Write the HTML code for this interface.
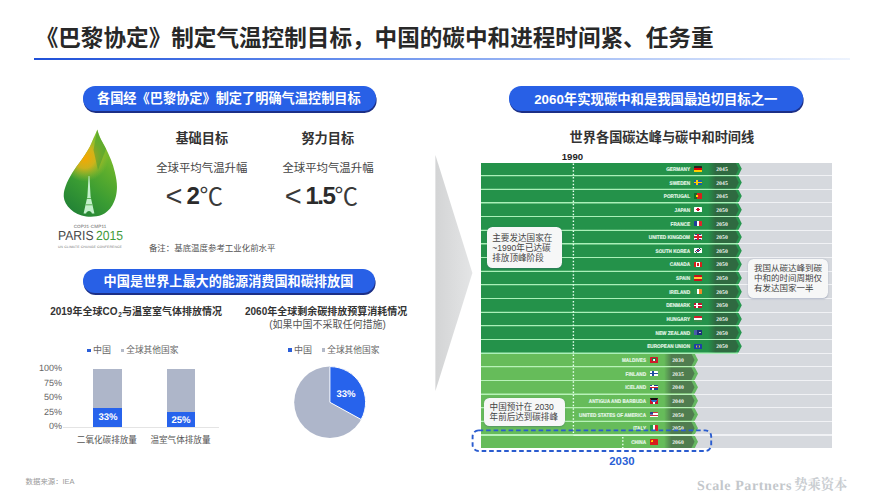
<!DOCTYPE html>
<html lang="zh-CN"><head><meta charset="utf-8"><title>巴黎协定与中国碳中和</title><style>
html,body{margin:0;padding:0;background:#fff}
body{width:877px;height:500px;overflow:hidden;font-family:"Liberation Sans","Noto Sans CJK SC",sans-serif}
#slide{position:relative;width:877px;height:500px;overflow:hidden;background:#fff}
.b{position:absolute;box-sizing:border-box}
.t{position:absolute}
.t span{position:absolute;left:0;top:0;white-space:nowrap;font-family:"Liberation Sans","Noto Sans CJK SC",sans-serif}
.l{position:absolute;white-space:nowrap;text-rendering:geometricPrecision;font-kerning:none}
.a{position:absolute;left:0;top:0;overflow:visible}
</style></head><body><div id="slide">
<div class="t " style="left:35.7px;top:27.6px;width:680px;height:30px"><span style="font-size:22.6px;font-weight:bold;line-height:22.6px;color:#282828">《巴黎协定》制定气温控制目标，中国的碳中和进程时间紧、任务重</span></div>
<div class="b " style="left:34px;top:58.3px;width:816px;height:2px;background:linear-gradient(90deg,#1f50d8 0%,#5f89ec 35%,#b9cdf8 75%,rgba(220,232,252,.5) 100%)"></div>
<div class="b " style="left:82.8px;top:86.3px;width:293px;height:24.3px;background:#2860e6;border-radius:12.15px;box-shadow:0.6px 1.9px 0 #1c2f86"></div>
<div class="t " style="left:97px;top:92.3px;width:265px;height:18px"><span style="font-size:13.2px;font-weight:bold;line-height:13.2px;color:#fff">各国经《巴黎协定》制定了明确气温控制目标</span></div>
<div class="b " style="left:82.8px;top:268.9px;width:292px;height:24.3px;background:#2860e6;border-radius:12.15px;box-shadow:0.6px 1.9px 0 #1c2f86"></div>
<div class="t " style="left:103.6px;top:274.93px;width:251px;height:18px"><span style="font-size:13.15px;font-weight:bold;line-height:13.15px;color:#fff">中国是世界上最大的能源消费国和碳排放国</span></div>
<div class="b " style="left:508.6px;top:86.3px;width:294.7px;height:24.3px;background:#2860e6;border-radius:12.15px;box-shadow:0.6px 1.9px 0 #1c2f86"></div>
<div class="t " style="left:534.2px;top:92.62px;width:247px;height:18px"><span style="font-size:13.35px;font-weight:bold;line-height:13.35px;color:#fff">2060年实现碳中和是我国最迫切目标之一</span></div>
<svg class="a" width="877" height="500" viewBox="0 0 877 500">
<defs>
<linearGradient id="lf1" x1="66" y1="212" x2="116" y2="150" gradientUnits="userSpaceOnUse"><stop offset="0" stop-color="#1f7f36"/><stop offset=".4" stop-color="#3a9c33"/><stop offset=".75" stop-color="#62b02c"/><stop offset="1" stop-color="#86c02c"/></linearGradient>
<radialGradient id="lf2" cx="84.5" cy="157.5" r="24" gradientUnits="userSpaceOnUse"><stop offset="0" stop-color="#f7a600"/><stop offset=".45" stop-color="#eab416" stop-opacity=".8"/><stop offset="1" stop-color="#a8c832" stop-opacity="0"/></radialGradient>
<linearGradient id="ar" x1="0" y1="0" x2="1" y2="0"><stop offset="0" stop-color="#d3d4d5"/><stop offset="1" stop-color="#e4e5e6"/></linearGradient>
<clipPath id="leafc"><path d="M97.3 129.6C99.5 138 103 143 105.7 148C109.5 156 113 163.5 114.8 172C116.5 179 117.2 184 116.9 189C116.5 197 114.5 201 112.5 205C109.5 210 106 213 102 214.8C97 216.8 91.5 217 86.2 216.5C80 215.8 74.5 213 70.8 209.5C66.5 205.5 64 201 63.8 197C63.5 193 64.3 190 65.5 186.5C67.3 181.5 69.5 177.5 72.2 173.1C75.3 168 78.5 164 82 159.2C86 153.5 89.5 148 91.7 142.4C94 137 96 133 97.3 129.6Z"/></clipPath>
</defs>
<g clip-path="url(#leafc)">
<rect x="60" y="125" width="62" height="95" fill="url(#lf1)"/>
<rect x="60" y="125" width="62" height="95" fill="url(#lf2)"/>
<path d="M97.3 129L106 149L98 170L93.5 150Z" fill="#379630" opacity=".45"/>
</g>
<path d="M88.6 176L89.4 176L90.6 196.5L94.4 213.6L91.9 213.6C91.4 210 86.6 210 86.1 213.6L83.6 213.6L87.4 196.5Z" fill="#c4f0cc"/>
<path d="M86.9 198.5H91.1M85.8 204.8H92.2" stroke="#3f9f38" stroke-width=".8" fill="none"/>
<path d="M435.4 155L472.4 273L435.4 391Z" fill="url(#ar)"/>
</svg>
<div class="l" style="left:90px;top:226.6px;font:normal 18.4px/1 'Liberation Sans',sans-serif;color:#666;letter-spacing:0.4px;transform:translate(-50%,-50%) scale(0.25,0.25);transform-origin:50% 50%;">COP21·CMP11</div>
<div class="l" style="left:57.6px;top:236.2px;font:normal 52.8px/1 'Liberation Sans',sans-serif;color:#4a4a4a;letter-spacing:0px;transform:translate(0,-50%) scale(0.23,0.25);transform-origin:0 50%;">PARIS</div>
<div class="l" style="left:122.6px;top:236.2px;font:normal 52.8px/1 'Liberation Sans',sans-serif;color:#3f9a3a;letter-spacing:0px;transform:translate(-100%,-50%) scale(0.23,0.25);transform-origin:100% 50%;">2015</div>
<div class="l" style="left:90px;top:246.6px;font:normal 13.6px/1 'Liberation Sans',sans-serif;color:#777;letter-spacing:0.48px;transform:translate(-50%,-50%) scale(0.25,0.25);transform-origin:50% 50%;">UN CLIMATE CHANGE CONFERENCE</div>
<div class="t " style="left:175.4px;top:132.4px;width:54px;height:18px"><span style="font-size:13.2px;font-weight:bold;line-height:13.2px;color:#333">基础目标</span></div>
<div class="t " style="left:301.4px;top:132.4px;width:54px;height:18px"><span style="font-size:13.2px;font-weight:bold;line-height:13.2px;color:#333">努力目标</span></div>
<div class="t " style="left:156.2px;top:163.3px;width:93px;height:15px"><span style="font-size:11.4px;font-weight:normal;line-height:11.4px;color:#444">全球平均气温升幅</span></div>
<div class="t " style="left:282.4px;top:163.3px;width:93px;height:15px"><span style="font-size:11.4px;font-weight:normal;line-height:11.4px;color:#444">全球平均气温升幅</span></div>
<div class="t " style="left:165.6px;top:181.8px;width:17px;height:38px"><span style="font-size:29px;font-weight:normal;line-height:29px;color:#3a3a3a">&lt;</span></div>
<div class="t " style="left:186.6px;top:183.9px;width:17px;height:32px"><span style="font-size:24.2px;font-weight:bold;line-height:24.2px;color:#2b2b2b">2</span></div>
<div class="t " style="left:199.6px;top:185.65px;width:25px;height:31px"><span style="font-size:23.5px;font-weight:normal;line-height:23.5px;color:#3a3a3a">℃</span></div>
<div class="t " style="left:284.8px;top:181.8px;width:17px;height:38px"><span style="font-size:29px;font-weight:normal;line-height:29px;color:#3a3a3a">&lt;</span></div>
<div class="t " style="left:305.4px;top:183.9px;width:31px;height:32px"><span style="font-size:24.2px;font-weight:bold;line-height:24.2px;color:#2b2b2b;letter-spacing:-1.5px">1.5</span></div>
<div class="t " style="left:334.6px;top:185.65px;width:25px;height:31px"><span style="font-size:23.5px;font-weight:normal;line-height:23.5px;color:#3a3a3a">℃</span></div>
<div class="t " style="left:148.9px;top:244.18px;width:128px;height:11px"><span style="font-size:8.45px;font-weight:normal;line-height:8.45px;color:#555">备注：基底温度参考工业化前水平</span></div>
<div class="t " style="left:50.2px;top:307.4px;width:69px;height:13px"><span style="font-size:10px;font-weight:bold;line-height:10px;color:#333">2019年全球CO</span></div>
<div class="t " style="left:118.16px;top:312.2px;width:5px;height:9px"><span style="font-size:6.4px;font-weight:bold;line-height:6.4px;color:#333">2</span></div>
<div class="t " style="left:122.04px;top:307.4px;width:101px;height:13px"><span style="font-size:10px;font-weight:bold;line-height:10px;color:#333">与温室室气体排放情况</span></div>
<div class="b " style="left:87.2px;top:348.6px;width:3.8px;height:3.8px;background:#2b5fd9"></div>
<div class="t " style="left:93px;top:346.1px;width:19px;height:12px"><span style="font-size:9px;font-weight:normal;line-height:9px;color:#666">中国</span></div>
<div class="b " style="left:120.6px;top:348.6px;width:3.8px;height:3.8px;background:#b4bac8"></div>
<div class="t " style="left:126.2px;top:346.25px;width:54px;height:12px"><span style="font-size:8.7px;font-weight:normal;line-height:8.7px;color:#666">全球其他国家</span></div>
<div class="l" style="left:62.2px;top:368.4px;font:normal 36px/1 'Liberation Sans',sans-serif;color:#666;letter-spacing:0px;transform:translate(-100%,-50%) scale(0.25,0.25);transform-origin:100% 50%;">100%</div>
<div class="l" style="left:62.2px;top:382.8px;font:normal 36px/1 'Liberation Sans',sans-serif;color:#666;letter-spacing:0px;transform:translate(-100%,-50%) scale(0.25,0.25);transform-origin:100% 50%;">75%</div>
<div class="l" style="left:62.2px;top:397.2px;font:normal 36px/1 'Liberation Sans',sans-serif;color:#666;letter-spacing:0px;transform:translate(-100%,-50%) scale(0.25,0.25);transform-origin:100% 50%;">50%</div>
<div class="l" style="left:62.2px;top:411.6px;font:normal 36px/1 'Liberation Sans',sans-serif;color:#666;letter-spacing:0px;transform:translate(-100%,-50%) scale(0.25,0.25);transform-origin:100% 50%;">25%</div>
<div class="l" style="left:62.2px;top:426px;font:normal 36px/1 'Liberation Sans',sans-serif;color:#666;letter-spacing:0px;transform:translate(-100%,-50%) scale(0.25,0.25);transform-origin:100% 50%;">0%</div>
<div class="b " style="left:63px;top:426.8px;width:156px;height:1px;background:#e4e4e4"></div>
<div class="b " style="left:93.4px;top:369.2px;width:28.4px;height:38.46px;background:#aeb6c9"></div>
<div class="b " style="left:93.4px;top:407.66px;width:28.4px;height:18.94px;background:#2763ec"></div>
<div class="l" style="left:107.6px;top:417.43px;font:bold 38.4px/1 'Liberation Sans',sans-serif;color:#fff;letter-spacing:0px;transform:translate(-50%,-50%) scale(0.25,0.25);transform-origin:50% 50%;">33%</div>
<div class="b " style="left:166.6px;top:369.2px;width:28.4px;height:43.05px;background:#aeb6c9"></div>
<div class="b " style="left:166.6px;top:412.25px;width:28.4px;height:14.35px;background:#2763ec"></div>
<div class="l" style="left:180.8px;top:419.72px;font:bold 38.4px/1 'Liberation Sans',sans-serif;color:#fff;letter-spacing:0px;transform:translate(-50%,-50%) scale(0.25,0.25);transform-origin:50% 50%;">25%</div>
<div class="t " style="left:76.8px;top:435.9px;width:62px;height:12px"><span style="font-size:8.6px;font-weight:normal;line-height:8.6px;color:#555">二氧化碳排放量</span></div>
<div class="t " style="left:150.4px;top:435.9px;width:62px;height:12px"><span style="font-size:8.6px;font-weight:normal;line-height:8.6px;color:#555">温室气体排放量</span></div>
<div class="t " style="left:245px;top:307.4px;width:165px;height:13px"><span style="font-size:10px;font-weight:bold;line-height:10px;color:#333">2060年全球剩余碳排放预算消耗情况</span></div>
<div class="t " style="left:269.2px;top:319.8px;width:118px;height:13px"><span style="font-size:10px;font-weight:normal;line-height:10px;color:#555">(如果中国不采取任何措施)</span></div>
<div class="b " style="left:287.8px;top:348px;width:3.8px;height:3.8px;background:#2b5fd9"></div>
<div class="t " style="left:294px;top:345.7px;width:19px;height:12px"><span style="font-size:9px;font-weight:normal;line-height:9px;color:#666">中国</span></div>
<div class="b " style="left:321.6px;top:348px;width:3.8px;height:3.8px;background:#b4bac8"></div>
<div class="t " style="left:327.2px;top:345.85px;width:54px;height:12px"><span style="font-size:8.7px;font-weight:normal;line-height:8.7px;color:#666">全球其他国家</span></div>
<svg class="a" width="877" height="500" viewBox="0 0 877 500"><circle cx="329.9" cy="402.3" r="35.7" fill="#aeb6ca"/><path d="M329.9 402.3L329.9 366.6A35.7 35.7 0 0 1 361.18 419.5Z" fill="#2763ec" stroke="#fff" stroke-width="1" stroke-linejoin="round"/></svg>
<div class="l" style="left:345.6px;top:394.3px;font:bold 38.4px/1 'Liberation Sans',sans-serif;color:#fff;letter-spacing:0px;transform:translate(-50%,-50%) scale(0.25,0.25);transform-origin:50% 50%;">33%</div>
<div class="t " style="left:25.6px;top:478.1px;width:50px;height:10px"><span style="font-size:7.4px;font-weight:normal;line-height:7.4px;color:#9a9a9a">数据来源：IEA</span></div>
<div class="l" style="left:696.6px;top:485.4px;font:bold 56px/1 'Liberation Serif',serif;color:#c3c7cb;letter-spacing:2.4px;transform:translate(0,-50%) scale(0.25,0.25);transform-origin:0 50%;">Scale Partners</div>
<div class="t " style="left:794.2px;top:478.35px;width:55px;height:18px"><span style="font-size:13.3px;font-weight:bold;line-height:13.3px;color:#c9cdd1;font-family:'Liberation Serif','Noto Serif CJK SC',serif">势乘资本</span></div>
<div class="t " style="left:569.6px;top:131.4px;width:186px;height:18px"><span style="font-size:13.2px;font-weight:bold;line-height:13.2px;color:#333">世界各国碳达峰与碳中和时间线</span></div>
<div class="b " style="left:480.6px;top:162.5px;width:258.2px;height:191.1px;background:#aaf0b8"></div>
<div class="b " style="left:480.6px;top:353.6px;width:214.4px;height:94.55px;background:#b8f2b8"></div>
<div class="b " style="left:737.8px;top:162.5px;width:94.4px;height:191.1px;background:#f1f2f5"></div>
<div class="b " style="left:694px;top:353.6px;width:138.2px;height:94.55px;background:#f1f2f5"></div>
<div class="b " style="left:737.8px;top:162.5px;width:94.4px;height:12.65px;background:#d6d9de"></div>
<div class="b " style="left:480.6px;top:162.5px;width:261.2px;height:12.65px;background:linear-gradient(90deg,#24924a 248.8px,#27964e 254.8px);clip-path:polygon(0 0,98.74% 0,100% 50%,98.74% 100%,0 100%)"><div class="b" style="left:227.4px;top:0;width:30.8px;height:100%;background:linear-gradient(90deg,#2f6a4100 0,#2f6a41 7.5px);clip-path:polygon(0 0,89.61% 0,100% 50%,89.61% 100%,0 100%)"></div></div>
<div class="l" style="left:689.8px;top:168.92px;font:bold 21.2px/1 'Liberation Sans',sans-serif;color:#e6f7e9;letter-spacing:0px;transform:translate(-100%,-50%) scale(0.22,0.25);transform-origin:100% 50%;-webkit-text-stroke:.6px #e6f7e9">GERMANY</div>
<div class="b " style="left:694px;top:166.12px;width:8.2px;height:5.4px;background:linear-gradient(#222 0 33%,#d00 33% 66%,#fc0 66%);border-radius:.6px"></div>
<div class="l" style="left:721.8px;top:168.92px;font:bold 22.4px/1 'Liberation Serif',serif;color:#f0f6f0;letter-spacing:0.4px;transform:translate(-50%,-50%) scale(0.25,0.25);transform-origin:50% 50%;">2045</div>
<div class="b " style="left:737.8px;top:176.15px;width:94.4px;height:12.65px;background:#d6d9de"></div>
<div class="b " style="left:480.6px;top:176.15px;width:261.2px;height:12.65px;background:linear-gradient(90deg,#24924a 248.8px,#27964e 254.8px);clip-path:polygon(0 0,98.74% 0,100% 50%,98.74% 100%,0 100%)"><div class="b" style="left:227.4px;top:0;width:30.8px;height:100%;background:linear-gradient(90deg,#2f6a4100 0,#2f6a41 7.5px);clip-path:polygon(0 0,89.61% 0,100% 50%,89.61% 100%,0 100%)"></div></div>
<div class="l" style="left:689.8px;top:182.57px;font:bold 21.2px/1 'Liberation Sans',sans-serif;color:#e6f7e9;letter-spacing:0px;transform:translate(-100%,-50%) scale(0.22,0.25);transform-origin:100% 50%;-webkit-text-stroke:.6px #e6f7e9">SWEDEN</div>
<div class="b " style="left:694px;top:179.78px;width:8.2px;height:5.4px;background:linear-gradient(90deg,transparent 28%,#fc0 28% 44%,transparent 44%),linear-gradient(transparent 38%,#fc0 38% 62%,transparent 62%),#1a5fa8;border-radius:.6px"></div>
<div class="l" style="left:721.8px;top:182.57px;font:bold 22.4px/1 'Liberation Serif',serif;color:#f0f6f0;letter-spacing:0.4px;transform:translate(-50%,-50%) scale(0.25,0.25);transform-origin:50% 50%;">2045</div>
<div class="b " style="left:737.8px;top:189.8px;width:94.4px;height:12.65px;background:#d6d9de"></div>
<div class="b " style="left:480.6px;top:189.8px;width:261.2px;height:12.65px;background:linear-gradient(90deg,#24924a 248.8px,#27964e 254.8px);clip-path:polygon(0 0,98.74% 0,100% 50%,98.74% 100%,0 100%)"><div class="b" style="left:227.4px;top:0;width:30.8px;height:100%;background:linear-gradient(90deg,#2f6a4100 0,#2f6a41 7.5px);clip-path:polygon(0 0,89.61% 0,100% 50%,89.61% 100%,0 100%)"></div></div>
<div class="l" style="left:689.8px;top:196.22px;font:bold 21.2px/1 'Liberation Sans',sans-serif;color:#e6f7e9;letter-spacing:0px;transform:translate(-100%,-50%) scale(0.22,0.25);transform-origin:100% 50%;-webkit-text-stroke:.6px #e6f7e9">PORTUGAL</div>
<div class="b " style="left:694px;top:193.43px;width:8.2px;height:5.4px;background:radial-gradient(circle at 40% 50%,#fd0 0 1.2px,transparent 1.4px),linear-gradient(90deg,#176a2a 40%,#d8201c 40%);border-radius:.6px"></div>
<div class="l" style="left:721.8px;top:196.22px;font:bold 22.4px/1 'Liberation Serif',serif;color:#f0f6f0;letter-spacing:0.4px;transform:translate(-50%,-50%) scale(0.25,0.25);transform-origin:50% 50%;">2045</div>
<div class="b " style="left:737.8px;top:203.45px;width:94.4px;height:12.65px;background:#d6d9de"></div>
<div class="b " style="left:480.6px;top:203.45px;width:261.2px;height:12.65px;background:linear-gradient(90deg,#24924a 248.8px,#27964e 254.8px);clip-path:polygon(0 0,98.74% 0,100% 50%,98.74% 100%,0 100%)"><div class="b" style="left:227.4px;top:0;width:30.8px;height:100%;background:linear-gradient(90deg,#2f6a4100 0,#2f6a41 7.5px);clip-path:polygon(0 0,89.61% 0,100% 50%,89.61% 100%,0 100%)"></div></div>
<div class="l" style="left:689.8px;top:209.87px;font:bold 21.2px/1 'Liberation Sans',sans-serif;color:#e6f7e9;letter-spacing:0px;transform:translate(-100%,-50%) scale(0.22,0.25);transform-origin:100% 50%;-webkit-text-stroke:.6px #e6f7e9">JAPAN</div>
<div class="b " style="left:694px;top:207.07px;width:8.2px;height:5.4px;background:radial-gradient(circle at 50% 50%,#c8102e 0 1.5px,#fff 1.8px);border-radius:.6px"></div>
<div class="l" style="left:721.8px;top:209.87px;font:bold 22.4px/1 'Liberation Serif',serif;color:#f0f6f0;letter-spacing:0.4px;transform:translate(-50%,-50%) scale(0.25,0.25);transform-origin:50% 50%;">2050</div>
<div class="b " style="left:737.8px;top:217.1px;width:94.4px;height:12.65px;background:#d6d9de"></div>
<div class="b " style="left:480.6px;top:217.1px;width:261.2px;height:12.65px;background:linear-gradient(90deg,#24924a 248.8px,#27964e 254.8px);clip-path:polygon(0 0,98.74% 0,100% 50%,98.74% 100%,0 100%)"><div class="b" style="left:227.4px;top:0;width:30.8px;height:100%;background:linear-gradient(90deg,#2f6a4100 0,#2f6a41 7.5px);clip-path:polygon(0 0,89.61% 0,100% 50%,89.61% 100%,0 100%)"></div></div>
<div class="l" style="left:689.8px;top:223.52px;font:bold 21.2px/1 'Liberation Sans',sans-serif;color:#e6f7e9;letter-spacing:0px;transform:translate(-100%,-50%) scale(0.22,0.25);transform-origin:100% 50%;-webkit-text-stroke:.6px #e6f7e9">FRANCE</div>
<div class="b " style="left:694px;top:220.72px;width:8.2px;height:5.4px;background:linear-gradient(90deg,#1f3f9a 33%,#fff 33% 66%,#e0242c 66%);border-radius:.6px"></div>
<div class="l" style="left:721.8px;top:223.52px;font:bold 22.4px/1 'Liberation Serif',serif;color:#f0f6f0;letter-spacing:0.4px;transform:translate(-50%,-50%) scale(0.25,0.25);transform-origin:50% 50%;">2050</div>
<div class="b " style="left:737.8px;top:230.75px;width:94.4px;height:12.65px;background:#d6d9de"></div>
<div class="b " style="left:480.6px;top:230.75px;width:261.2px;height:12.65px;background:linear-gradient(90deg,#24924a 248.8px,#27964e 254.8px);clip-path:polygon(0 0,98.74% 0,100% 50%,98.74% 100%,0 100%)"><div class="b" style="left:227.4px;top:0;width:30.8px;height:100%;background:linear-gradient(90deg,#2f6a4100 0,#2f6a41 7.5px);clip-path:polygon(0 0,89.61% 0,100% 50%,89.61% 100%,0 100%)"></div></div>
<div class="l" style="left:689.8px;top:237.17px;font:bold 21.2px/1 'Liberation Sans',sans-serif;color:#e6f7e9;letter-spacing:0px;transform:translate(-100%,-50%) scale(0.22,0.25);transform-origin:100% 50%;-webkit-text-stroke:.6px #e6f7e9">UNITED KINGDOM</div>
<div class="b " style="left:694px;top:234.38px;width:8.2px;height:5.4px;background:linear-gradient(90deg,transparent 42%,#d8202c 42% 58%,transparent 58%),linear-gradient(transparent 36%,#d8202c 36% 64%,transparent 64%),linear-gradient(90deg,transparent 34%,#fff 34% 66%,transparent 66%),linear-gradient(transparent 24%,#fff 24% 76%,transparent 76%),linear-gradient(33deg,transparent 44%,#e8a0a8 44% 56%,transparent 56%),linear-gradient(-33deg,transparent 44%,#e8a0a8 44% 56%,transparent 56%),#2a3f8f;border-radius:.6px"></div>
<div class="l" style="left:721.8px;top:237.17px;font:bold 22.4px/1 'Liberation Serif',serif;color:#f0f6f0;letter-spacing:0.4px;transform:translate(-50%,-50%) scale(0.25,0.25);transform-origin:50% 50%;">2050</div>
<div class="b " style="left:737.8px;top:244.4px;width:94.4px;height:12.65px;background:#d6d9de"></div>
<div class="b " style="left:480.6px;top:244.4px;width:261.2px;height:12.65px;background:linear-gradient(90deg,#24924a 248.8px,#27964e 254.8px);clip-path:polygon(0 0,98.74% 0,100% 50%,98.74% 100%,0 100%)"><div class="b" style="left:227.4px;top:0;width:30.8px;height:100%;background:linear-gradient(90deg,#2f6a4100 0,#2f6a41 7.5px);clip-path:polygon(0 0,89.61% 0,100% 50%,89.61% 100%,0 100%)"></div></div>
<div class="l" style="left:689.8px;top:250.82px;font:bold 21.2px/1 'Liberation Sans',sans-serif;color:#e6f7e9;letter-spacing:0px;transform:translate(-100%,-50%) scale(0.22,0.25);transform-origin:100% 50%;-webkit-text-stroke:.6px #e6f7e9">SOUTH KOREA</div>
<div class="b " style="left:694px;top:248.03px;width:8.2px;height:5.4px;background:radial-gradient(circle at 50% 50%,#c8203a 0 .9px,#2a3f8f 1px 1.5px,transparent 1.8px),linear-gradient(33deg,#fff 18%,#444 18% 26%,#fff 26% 74%,#444 74% 82%,#fff 82%);border-radius:.6px"></div>
<div class="l" style="left:721.8px;top:250.82px;font:bold 22.4px/1 'Liberation Serif',serif;color:#f0f6f0;letter-spacing:0.4px;transform:translate(-50%,-50%) scale(0.25,0.25);transform-origin:50% 50%;">2050</div>
<div class="b " style="left:737.8px;top:258.05px;width:94.4px;height:12.65px;background:#d6d9de"></div>
<div class="b " style="left:480.6px;top:258.05px;width:261.2px;height:12.65px;background:linear-gradient(90deg,#24924a 248.8px,#27964e 254.8px);clip-path:polygon(0 0,98.74% 0,100% 50%,98.74% 100%,0 100%)"><div class="b" style="left:227.4px;top:0;width:30.8px;height:100%;background:linear-gradient(90deg,#2f6a4100 0,#2f6a41 7.5px);clip-path:polygon(0 0,89.61% 0,100% 50%,89.61% 100%,0 100%)"></div></div>
<div class="l" style="left:689.8px;top:264.48px;font:bold 21.2px/1 'Liberation Sans',sans-serif;color:#e6f7e9;letter-spacing:0px;transform:translate(-100%,-50%) scale(0.22,0.25);transform-origin:100% 50%;-webkit-text-stroke:.6px #e6f7e9">CANADA</div>
<div class="b " style="left:694px;top:261.68px;width:8.2px;height:5.4px;background:radial-gradient(circle at 50% 50%,#d8201c 0 1.2px,transparent 1.5px),linear-gradient(90deg,#d8201c 26%,#fff 26% 74%,#d8201c 74%);border-radius:.6px"></div>
<div class="l" style="left:721.8px;top:264.48px;font:bold 22.4px/1 'Liberation Serif',serif;color:#f0f6f0;letter-spacing:0.4px;transform:translate(-50%,-50%) scale(0.25,0.25);transform-origin:50% 50%;">2050</div>
<div class="b " style="left:737.8px;top:271.7px;width:94.4px;height:12.65px;background:#d6d9de"></div>
<div class="b " style="left:480.6px;top:271.7px;width:261.2px;height:12.65px;background:linear-gradient(90deg,#24924a 248.8px,#27964e 254.8px);clip-path:polygon(0 0,98.74% 0,100% 50%,98.74% 100%,0 100%)"><div class="b" style="left:227.4px;top:0;width:30.8px;height:100%;background:linear-gradient(90deg,#2f6a4100 0,#2f6a41 7.5px);clip-path:polygon(0 0,89.61% 0,100% 50%,89.61% 100%,0 100%)"></div></div>
<div class="l" style="left:689.8px;top:278.12px;font:bold 21.2px/1 'Liberation Sans',sans-serif;color:#e6f7e9;letter-spacing:0px;transform:translate(-100%,-50%) scale(0.22,0.25);transform-origin:100% 50%;-webkit-text-stroke:.6px #e6f7e9">SPAIN</div>
<div class="b " style="left:694px;top:275.32px;width:8.2px;height:5.4px;background:linear-gradient(#c8101c 27%,#fc3 27% 73%,#c8101c 73%);border-radius:.6px"></div>
<div class="l" style="left:721.8px;top:278.12px;font:bold 22.4px/1 'Liberation Serif',serif;color:#f0f6f0;letter-spacing:0.4px;transform:translate(-50%,-50%) scale(0.25,0.25);transform-origin:50% 50%;">2050</div>
<div class="b " style="left:737.8px;top:285.35px;width:94.4px;height:12.65px;background:#d6d9de"></div>
<div class="b " style="left:480.6px;top:285.35px;width:261.2px;height:12.65px;background:linear-gradient(90deg,#24924a 248.8px,#27964e 254.8px);clip-path:polygon(0 0,98.74% 0,100% 50%,98.74% 100%,0 100%)"><div class="b" style="left:227.4px;top:0;width:30.8px;height:100%;background:linear-gradient(90deg,#2f6a4100 0,#2f6a41 7.5px);clip-path:polygon(0 0,89.61% 0,100% 50%,89.61% 100%,0 100%)"></div></div>
<div class="l" style="left:689.8px;top:291.78px;font:bold 21.2px/1 'Liberation Sans',sans-serif;color:#e6f7e9;letter-spacing:0px;transform:translate(-100%,-50%) scale(0.22,0.25);transform-origin:100% 50%;-webkit-text-stroke:.6px #e6f7e9">IRELAND</div>
<div class="b " style="left:694px;top:288.98px;width:8.2px;height:5.4px;background:linear-gradient(90deg,#2a9a50 33%,#fff 33% 66%,#f08a28 66%);border-radius:.6px"></div>
<div class="l" style="left:721.8px;top:291.78px;font:bold 22.4px/1 'Liberation Serif',serif;color:#f0f6f0;letter-spacing:0.4px;transform:translate(-50%,-50%) scale(0.25,0.25);transform-origin:50% 50%;">2050</div>
<div class="b " style="left:737.8px;top:299px;width:94.4px;height:12.65px;background:#d6d9de"></div>
<div class="b " style="left:480.6px;top:299px;width:261.2px;height:12.65px;background:linear-gradient(90deg,#24924a 248.8px,#27964e 254.8px);clip-path:polygon(0 0,98.74% 0,100% 50%,98.74% 100%,0 100%)"><div class="b" style="left:227.4px;top:0;width:30.8px;height:100%;background:linear-gradient(90deg,#2f6a4100 0,#2f6a41 7.5px);clip-path:polygon(0 0,89.61% 0,100% 50%,89.61% 100%,0 100%)"></div></div>
<div class="l" style="left:689.8px;top:305.43px;font:bold 21.2px/1 'Liberation Sans',sans-serif;color:#e6f7e9;letter-spacing:0px;transform:translate(-100%,-50%) scale(0.22,0.25);transform-origin:100% 50%;-webkit-text-stroke:.6px #e6f7e9">DENMARK</div>
<div class="b " style="left:694px;top:302.62px;width:8.2px;height:5.4px;background:linear-gradient(90deg,transparent 30%,#fff 30% 44%,transparent 44%),linear-gradient(transparent 40%,#fff 40% 60%,transparent 60%),#c8102e;border-radius:.6px"></div>
<div class="l" style="left:721.8px;top:305.43px;font:bold 22.4px/1 'Liberation Serif',serif;color:#f0f6f0;letter-spacing:0.4px;transform:translate(-50%,-50%) scale(0.25,0.25);transform-origin:50% 50%;">2050</div>
<div class="b " style="left:737.8px;top:312.65px;width:94.4px;height:12.65px;background:#d6d9de"></div>
<div class="b " style="left:480.6px;top:312.65px;width:261.2px;height:12.65px;background:linear-gradient(90deg,#24924a 248.8px,#27964e 254.8px);clip-path:polygon(0 0,98.74% 0,100% 50%,98.74% 100%,0 100%)"><div class="b" style="left:227.4px;top:0;width:30.8px;height:100%;background:linear-gradient(90deg,#2f6a4100 0,#2f6a41 7.5px);clip-path:polygon(0 0,89.61% 0,100% 50%,89.61% 100%,0 100%)"></div></div>
<div class="l" style="left:689.8px;top:319.07px;font:bold 21.2px/1 'Liberation Sans',sans-serif;color:#e6f7e9;letter-spacing:0px;transform:translate(-100%,-50%) scale(0.22,0.25);transform-origin:100% 50%;-webkit-text-stroke:.6px #e6f7e9">HUNGARY</div>
<div class="b " style="left:694px;top:316.27px;width:8.2px;height:5.4px;background:linear-gradient(#d0202c 33%,#fff 33% 66%,#3a8a4a 66%);border-radius:.6px"></div>
<div class="l" style="left:721.8px;top:319.07px;font:bold 22.4px/1 'Liberation Serif',serif;color:#f0f6f0;letter-spacing:0.4px;transform:translate(-50%,-50%) scale(0.25,0.25);transform-origin:50% 50%;">2050</div>
<div class="b " style="left:737.8px;top:326.3px;width:94.4px;height:12.65px;background:#d6d9de"></div>
<div class="b " style="left:480.6px;top:326.3px;width:261.2px;height:12.65px;background:linear-gradient(90deg,#24924a 248.8px,#27964e 254.8px);clip-path:polygon(0 0,98.74% 0,100% 50%,98.74% 100%,0 100%)"><div class="b" style="left:227.4px;top:0;width:30.8px;height:100%;background:linear-gradient(90deg,#2f6a4100 0,#2f6a41 7.5px);clip-path:polygon(0 0,89.61% 0,100% 50%,89.61% 100%,0 100%)"></div></div>
<div class="l" style="left:689.8px;top:332.73px;font:bold 21.2px/1 'Liberation Sans',sans-serif;color:#e6f7e9;letter-spacing:0px;transform:translate(-100%,-50%) scale(0.22,0.25);transform-origin:100% 50%;-webkit-text-stroke:.6px #e6f7e9">NEW ZEALAND</div>
<div class="b " style="left:694px;top:329.93px;width:8.2px;height:5.4px;background:radial-gradient(circle at 72% 50%,#d8c8d0 0 .7px,transparent 1px),linear-gradient(90deg,#4a5aa8 0 35%,transparent 35%),#1a2f7a;border-radius:.6px"></div>
<div class="l" style="left:721.8px;top:332.73px;font:bold 22.4px/1 'Liberation Serif',serif;color:#f0f6f0;letter-spacing:0.4px;transform:translate(-50%,-50%) scale(0.25,0.25);transform-origin:50% 50%;">2050</div>
<div class="b " style="left:737.8px;top:339.95px;width:94.4px;height:12.65px;background:#d6d9de"></div>
<div class="b " style="left:480.6px;top:339.95px;width:261.2px;height:12.65px;background:linear-gradient(90deg,#24924a 248.8px,#27964e 254.8px);clip-path:polygon(0 0,98.74% 0,100% 50%,98.74% 100%,0 100%)"><div class="b" style="left:227.4px;top:0;width:30.8px;height:100%;background:linear-gradient(90deg,#2f6a4100 0,#2f6a41 7.5px);clip-path:polygon(0 0,89.61% 0,100% 50%,89.61% 100%,0 100%)"></div></div>
<div class="l" style="left:689.8px;top:346.38px;font:bold 21.2px/1 'Liberation Sans',sans-serif;color:#e6f7e9;letter-spacing:0px;transform:translate(-100%,-50%) scale(0.22,0.25);transform-origin:100% 50%;-webkit-text-stroke:.6px #e6f7e9">EUROPEAN UNION</div>
<div class="b " style="left:694px;top:343.58px;width:8.2px;height:5.4px;background:radial-gradient(circle at 50% 50%,transparent 0 1.1px,#d8c030 1.2px 1.7px,transparent 1.9px),#1f3fa8;border-radius:.6px"></div>
<div class="l" style="left:721.8px;top:346.38px;font:bold 22.4px/1 'Liberation Serif',serif;color:#f0f6f0;letter-spacing:0.4px;transform:translate(-50%,-50%) scale(0.25,0.25);transform-origin:50% 50%;">2050</div>
<div class="b " style="left:694px;top:353.6px;width:138.2px;height:12.65px;background:#d6d9de"></div>
<div class="b " style="left:480.6px;top:353.6px;width:217.4px;height:12.65px;background:linear-gradient(90deg,#66bc5a 204.6px,#66b862 210.6px);clip-path:polygon(0 0,98.48% 0,100% 50%,98.48% 100%,0 100%)"><div class="b" style="left:183.8px;top:0;width:30.2px;height:100%;background:linear-gradient(90deg,#507d4f00 0,#507d4f 7.5px);clip-path:polygon(0 0,89.40% 0,100% 50%,89.40% 100%,0 100%)"></div></div>
<div class="l" style="left:645.8px;top:360.03px;font:bold 21.2px/1 'Liberation Sans',sans-serif;color:#e6f7e9;letter-spacing:0px;transform:translate(-100%,-50%) scale(0.22,0.25);transform-origin:100% 50%;-webkit-text-stroke:.6px #e6f7e9">MALDIVES</div>
<div class="b " style="left:650px;top:357.23px;width:8.2px;height:5.4px;background:radial-gradient(circle at 52% 50%,#fff 0 .8px,transparent 1px),linear-gradient(90deg,transparent 22%,#1a7a3a 22% 78%,transparent 78%) center/100% 56% no-repeat,#d01c2c;border-radius:.6px"></div>
<div class="l" style="left:677.8px;top:360.03px;font:bold 22.4px/1 'Liberation Serif',serif;color:#f0f6f0;letter-spacing:0.4px;transform:translate(-50%,-50%) scale(0.25,0.25);transform-origin:50% 50%;">2030</div>
<div class="b " style="left:694px;top:367.25px;width:138.2px;height:12.65px;background:#d6d9de"></div>
<div class="b " style="left:480.6px;top:367.25px;width:217.4px;height:12.65px;background:linear-gradient(90deg,#66bc5a 204.6px,#66b862 210.6px);clip-path:polygon(0 0,98.48% 0,100% 50%,98.48% 100%,0 100%)"><div class="b" style="left:183.8px;top:0;width:30.2px;height:100%;background:linear-gradient(90deg,#507d4f00 0,#507d4f 7.5px);clip-path:polygon(0 0,89.40% 0,100% 50%,89.40% 100%,0 100%)"></div></div>
<div class="l" style="left:645.8px;top:373.68px;font:bold 21.2px/1 'Liberation Sans',sans-serif;color:#e6f7e9;letter-spacing:0px;transform:translate(-100%,-50%) scale(0.22,0.25);transform-origin:100% 50%;-webkit-text-stroke:.6px #e6f7e9">FINLAND</div>
<div class="b " style="left:650px;top:370.88px;width:8.2px;height:5.4px;background:linear-gradient(90deg,transparent 28%,#1f4fa0 28% 46%,transparent 46%),linear-gradient(transparent 36%,#1f4fa0 36% 64%,transparent 64%),#fff;border-radius:.6px"></div>
<div class="l" style="left:677.8px;top:373.68px;font:bold 22.4px/1 'Liberation Serif',serif;color:#f0f6f0;letter-spacing:0.4px;transform:translate(-50%,-50%) scale(0.25,0.25);transform-origin:50% 50%;">2035</div>
<div class="b " style="left:694px;top:380.9px;width:138.2px;height:12.65px;background:#d6d9de"></div>
<div class="b " style="left:480.6px;top:380.9px;width:217.4px;height:12.65px;background:linear-gradient(90deg,#66bc5a 204.6px,#66b862 210.6px);clip-path:polygon(0 0,98.48% 0,100% 50%,98.48% 100%,0 100%)"><div class="b" style="left:183.8px;top:0;width:30.2px;height:100%;background:linear-gradient(90deg,#507d4f00 0,#507d4f 7.5px);clip-path:polygon(0 0,89.40% 0,100% 50%,89.40% 100%,0 100%)"></div></div>
<div class="l" style="left:645.8px;top:387.32px;font:bold 21.2px/1 'Liberation Sans',sans-serif;color:#e6f7e9;letter-spacing:0px;transform:translate(-100%,-50%) scale(0.22,0.25);transform-origin:100% 50%;-webkit-text-stroke:.6px #e6f7e9">ICELAND</div>
<div class="b " style="left:650px;top:384.52px;width:8.2px;height:5.4px;background:linear-gradient(90deg,transparent 32%,#d8202c 32% 42%,transparent 42%),linear-gradient(transparent 42%,#d8202c 42% 58%,transparent 58%),linear-gradient(90deg,transparent 25%,#fff 25% 50%,transparent 50%),linear-gradient(transparent 30%,#fff 30% 70%,transparent 70%),#1f3f90;border-radius:.6px"></div>
<div class="l" style="left:677.8px;top:387.32px;font:bold 22.4px/1 'Liberation Serif',serif;color:#f0f6f0;letter-spacing:0.4px;transform:translate(-50%,-50%) scale(0.25,0.25);transform-origin:50% 50%;">2040</div>
<div class="b " style="left:694px;top:394.55px;width:138.2px;height:12.65px;background:#d6d9de"></div>
<div class="b " style="left:480.6px;top:394.55px;width:217.4px;height:12.65px;background:linear-gradient(90deg,#66bc5a 204.6px,#66b862 210.6px);clip-path:polygon(0 0,98.48% 0,100% 50%,98.48% 100%,0 100%)"><div class="b" style="left:183.8px;top:0;width:30.2px;height:100%;background:linear-gradient(90deg,#507d4f00 0,#507d4f 7.5px);clip-path:polygon(0 0,89.40% 0,100% 50%,89.40% 100%,0 100%)"></div></div>
<div class="l" style="left:645.8px;top:400.98px;font:bold 21.2px/1 'Liberation Sans',sans-serif;color:#e6f7e9;letter-spacing:0px;transform:translate(-100%,-50%) scale(0.22,0.25);transform-origin:100% 50%;-webkit-text-stroke:.6px #e6f7e9">ANTIGUA AND BARBUDA</div>
<div class="b " style="left:650px;top:398.18px;width:8.2px;height:5.4px;background:linear-gradient(60deg,#c8102e 30%,transparent 30%),linear-gradient(-60deg,#c8102e 30%,transparent 30%),linear-gradient(#111 40%,#2a6fc8 40% 60%,#fff 60%);border-radius:.6px"></div>
<div class="l" style="left:677.8px;top:400.98px;font:bold 22.4px/1 'Liberation Serif',serif;color:#f0f6f0;letter-spacing:0.4px;transform:translate(-50%,-50%) scale(0.25,0.25);transform-origin:50% 50%;">2040</div>
<div class="b " style="left:694px;top:408.2px;width:138.2px;height:12.65px;background:#d6d9de"></div>
<div class="b " style="left:480.6px;top:408.2px;width:217.4px;height:12.65px;background:linear-gradient(90deg,#66bc5a 204.6px,#66b862 210.6px);clip-path:polygon(0 0,98.48% 0,100% 50%,98.48% 100%,0 100%)"><div class="b" style="left:183.8px;top:0;width:30.2px;height:100%;background:linear-gradient(90deg,#507d4f00 0,#507d4f 7.5px);clip-path:polygon(0 0,89.40% 0,100% 50%,89.40% 100%,0 100%)"></div></div>
<div class="l" style="left:645.8px;top:414.63px;font:bold 21.2px/1 'Liberation Sans',sans-serif;color:#e6f7e9;letter-spacing:0px;transform:translate(-100%,-50%) scale(0.22,0.25);transform-origin:100% 50%;-webkit-text-stroke:.6px #e6f7e9">UNITED STATES OF AMERICA</div>
<div class="b " style="left:650px;top:411.83px;width:8.2px;height:5.4px;background:linear-gradient(90deg,#2a3f8f 42%,transparent 42%) top left/100% 54% no-repeat,repeating-linear-gradient(#c8303c 0 .8px,#fff .8px 1.6px);border-radius:.6px"></div>
<div class="l" style="left:677.8px;top:414.63px;font:bold 22.4px/1 'Liberation Serif',serif;color:#f0f6f0;letter-spacing:0.4px;transform:translate(-50%,-50%) scale(0.25,0.25);transform-origin:50% 50%;">2050</div>
<div class="b " style="left:694px;top:421.85px;width:138.2px;height:12.65px;background:#d6d9de"></div>
<div class="b " style="left:480.6px;top:421.85px;width:217.4px;height:12.65px;background:linear-gradient(90deg,#66bc5a 204.6px,#66b862 210.6px);clip-path:polygon(0 0,98.48% 0,100% 50%,98.48% 100%,0 100%)"><div class="b" style="left:183.8px;top:0;width:30.2px;height:100%;background:linear-gradient(90deg,#507d4f00 0,#507d4f 7.5px);clip-path:polygon(0 0,89.40% 0,100% 50%,89.40% 100%,0 100%)"></div></div>
<div class="l" style="left:645.8px;top:428.28px;font:bold 21.2px/1 'Liberation Sans',sans-serif;color:#e6f7e9;letter-spacing:0px;transform:translate(-100%,-50%) scale(0.22,0.25);transform-origin:100% 50%;-webkit-text-stroke:.6px #e6f7e9">ITALY</div>
<div class="b " style="left:650px;top:425.48px;width:8.2px;height:5.4px;background:linear-gradient(90deg,#1f9a48 33%,#fff 33% 66%,#d8202c 66%);border-radius:.6px"></div>
<div class="l" style="left:677.8px;top:428.28px;font:bold 22.4px/1 'Liberation Serif',serif;color:#f0f6f0;letter-spacing:0.4px;transform:translate(-50%,-50%) scale(0.25,0.25);transform-origin:50% 50%;">2050</div>
<div class="b " style="left:694px;top:435.5px;width:138.2px;height:12.65px;background:#d6d9de"></div>
<div class="b " style="left:480.6px;top:435.5px;width:217.4px;height:12.65px;background:linear-gradient(90deg,#66bc5a 204.6px,#66b862 210.6px);clip-path:polygon(0 0,98.48% 0,100% 50%,98.48% 100%,0 100%)"><div class="b" style="left:183.8px;top:0;width:30.2px;height:100%;background:linear-gradient(90deg,#507d4f00 0,#507d4f 7.5px);clip-path:polygon(0 0,89.40% 0,100% 50%,89.40% 100%,0 100%)"></div></div>
<div class="l" style="left:645.8px;top:441.93px;font:bold 21.2px/1 'Liberation Sans',sans-serif;color:#e6f7e9;letter-spacing:0px;transform:translate(-100%,-50%) scale(0.22,0.25);transform-origin:100% 50%;-webkit-text-stroke:.6px #e6f7e9">CHINA</div>
<div class="b " style="left:650px;top:439.12px;width:8.2px;height:5.4px;background:radial-gradient(circle at 28% 36%,#fd0 0 .9px,transparent 1.1px),#d81c1c;border-radius:.6px"></div>
<div class="l" style="left:677.8px;top:441.93px;font:bold 22.4px/1 'Liberation Serif',serif;color:#f0f6f0;letter-spacing:0.4px;transform:translate(-50%,-50%) scale(0.25,0.25);transform-origin:50% 50%;">2060</div>
<svg class="a" width="877" height="500" viewBox="0 0 877 500"><path d="M573.4 163.6V435" stroke="#e9fff0" stroke-width="1.4" stroke-dasharray="1.5 1.85" fill="none"/><path d="M622.8 437V449" stroke="#e9fff0" stroke-width="1.4" stroke-dasharray="1.5 1.85" fill="none"/><path d="M573.4 435.3H694" stroke="#e6fbe8" stroke-width="1.1" fill="none"/><rect x="472.6" y="430.4" width="238.6" height="20.6" rx="6" ry="6" fill="none" stroke="#2a5ccf" stroke-width="1.9" stroke-dasharray="4.6 2.9"/></svg>
<div class="t " style="left:561.76px;top:152.2px;width:25px;height:13px"><span style="font-size:9.6px;font-weight:bold;line-height:9.6px;color:#1f1f1f">1990</span></div>
<div class="t " style="left:609.25px;top:455.7px;width:29px;height:15px"><span style="font-size:11.4px;font-weight:bold;line-height:11.4px;color:#2a5fd6">2030</span></div>
<div class="b " style="left:486.6px;top:226.8px;width:75px;height:40.8px;background:#f6f7f7;border-radius:5.5px;box-shadow:0 .5px 1.5px rgba(60,80,120,.35)"></div>
<div class="t " style="left:492.2px;top:233.5px;width:65px;height:12px"><span style="font-size:8.6px;font-weight:normal;line-height:8.6px;color:#444">主要发达国家在</span></div>
<div class="t " style="left:492.2px;top:243.6px;width:65px;height:12px"><span style="font-size:8.6px;font-weight:normal;line-height:8.6px;color:#444">~1990年已达碳</span></div>
<div class="t " style="left:492.2px;top:253.7px;width:53px;height:12px"><span style="font-size:8.6px;font-weight:normal;line-height:8.6px;color:#444">排放顶峰阶段</span></div>
<div class="b " style="left:483.8px;top:398.4px;width:81.4px;height:27.6px;background:#f6f7f7;border-radius:5.5px;box-shadow:0 .5px 1.5px rgba(60,80,120,.35)"></div>
<div class="t " style="left:489.6px;top:403.43px;width:70px;height:12px"><span style="font-size:8.55px;font-weight:normal;line-height:8.55px;color:#444">中国预计在 2030</span></div>
<div class="t " style="left:489.6px;top:413.32px;width:70px;height:12px"><span style="font-size:8.55px;font-weight:normal;line-height:8.55px;color:#444">年前后达到碳排峰</span></div>
<div class="b " style="left:748px;top:259px;width:80px;height:39.4px;background:#f6f7f7;border-radius:5.5px;box-shadow:0 .5px 1.5px rgba(60,80,120,.35)"></div>
<div class="t " style="left:754px;top:263.55px;width:70px;height:12px"><span style="font-size:8.5px;font-weight:normal;line-height:8.5px;color:#444">我国从碳达峰到碳</span></div>
<div class="t " style="left:754px;top:273.8px;width:70px;height:12px"><span style="font-size:8.5px;font-weight:normal;line-height:8.5px;color:#444">中和的时间周期仅</span></div>
<div class="t " style="left:754px;top:284.05px;width:61px;height:12px"><span style="font-size:8.5px;font-weight:normal;line-height:8.5px;color:#444">有发达国家一半</span></div>
</div></body></html>
